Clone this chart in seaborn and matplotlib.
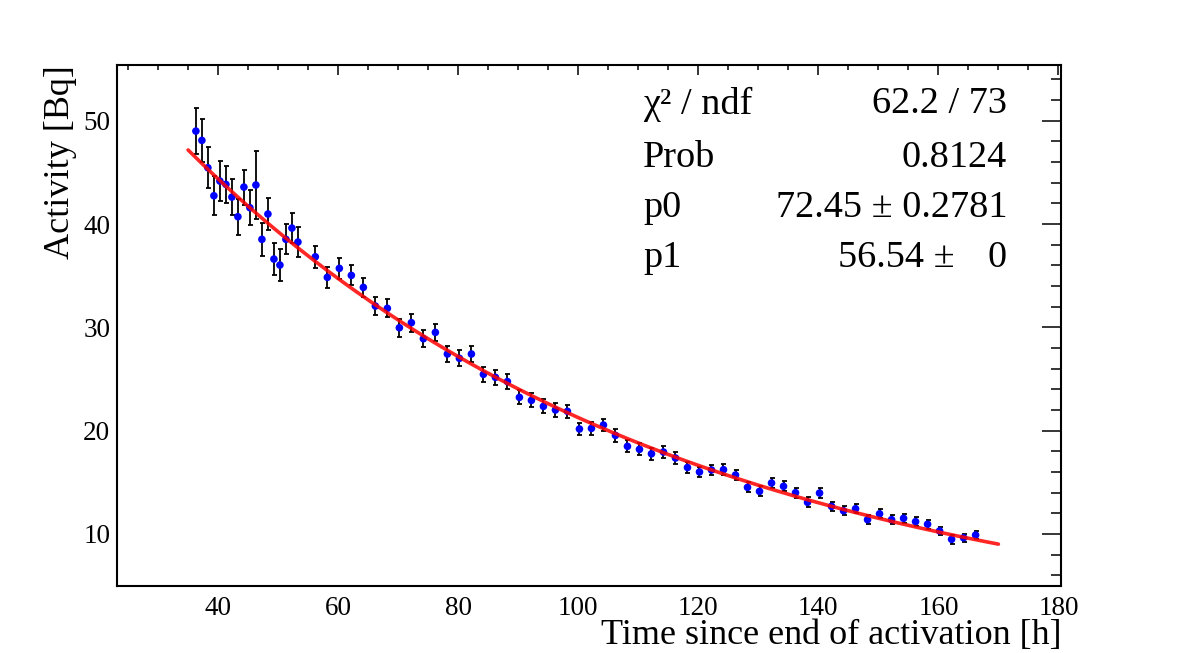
import numpy as np
import pandas as pd
import matplotlib
matplotlib.use("Agg")
import matplotlib.pyplot as plt
import seaborn as sns
from matplotlib.ticker import MultipleLocator

# ---------------- data ----------------
time_h = [36.3, 37.3, 38.3, 39.3, 40.3, 41.3, 42.3, 43.3, 44.3, 45.3,
          46.3, 47.3, 48.3, 49.3, 50.3, 51.3, 52.3, 53.3,
          56.2, 58.2, 60.2, 62.2, 64.2, 66.2, 68.2, 70.2, 72.2, 74.2,
          76.2, 78.2, 80.2, 82.2, 84.2, 86.2, 88.2, 90.2, 92.2, 94.2,
          96.2, 98.2, 100.2, 102.2, 104.2, 106.2, 108.2, 110.2, 112.2, 114.2,
          116.2, 118.2, 120.2, 122.2, 124.2, 126.2, 128.2, 130.2, 132.2, 134.2,
          136.2, 138.2, 140.2, 142.2, 144.2, 146.2, 148.2, 150.2, 152.2, 154.2,
          156.2, 158.2, 160.2, 162.2, 164.2, 166.2]
activity = [49.0, 48.1, 45.45, 42.74, 44.16, 43.84, 42.61, 40.71, 43.58, 41.58,
            43.78, 38.52, 40.97, 36.61, 36.03, 38.52, 39.61, 38.26,
            36.83, 34.84, 35.71, 35.03, 33.87, 32.06, 31.84, 29.96, 30.45, 28.90,
            29.51, 27.42, 27.00, 27.42, 25.45, 25.16, 24.75, 23.22, 22.93, 22.35,
            22.00, 21.87, 20.16, 20.22, 20.54, 19.54, 18.48, 18.19, 17.76, 17.93,
            17.35, 16.43, 16.00, 16.19, 16.22, 15.70, 14.51, 14.12, 14.93, 14.61,
            13.99, 13.06, 13.96, 12.67, 12.24, 12.44, 11.38, 11.95, 11.38, 11.51,
            11.19, 10.94, 10.29, 9.48, 9.63, 9.89]
activity_err = [2.2, 2.05, 2.0, 1.9, 1.9, 1.8, 1.77, 1.73, 1.7, 1.7,
                3.3, 1.6, 1.55, 1.55, 1.52, 1.45, 1.42, 1.45,
                1.06, 1.02, 1.0, 0.97, 0.95, 0.89, 0.87, 0.86, 0.86, 0.80,
                0.82, 0.77, 0.77, 0.77, 0.74, 0.74, 0.71, 0.68, 0.68, 0.67,
                0.66, 0.65, 0.62, 0.62, 0.62, 0.60, 0.58, 0.57, 0.56, 0.56,
                0.55, 0.53, 0.52, 0.52, 0.52, 0.51, 0.49, 0.48, 0.50, 0.49,
                0.48, 0.47, 0.48, 0.46, 0.45, 0.46, 0.44, 0.45, 0.44, 0.44,
                0.44, 0.43, 0.42, 0.41, 0.41, 0.42]

# fit parameters shown in the stat box: A(t) = p0 * 2^(-t/p1), fitted on 35..170 h
p0 = 72.45
p1 = 56.54
fit_range = (35.0, 170.0)

stat_labels = ["χ² / ndf", "Prob", "p0", "p1"]
stat_values = ["62.2 / 73", "0.8124", "72.45 ± 0.2781", "56.54 ±"]
p1_err_text = "0"

x_ticks = [40, 60, 80, 100, 120, 140, 160, 180]
y_ticks = [10, 20, 30, 40, 50]

# ---------------- style ----------------
sns.set_theme(style="white")
plt.rcParams["font.family"] = ["Liberation Serif", "DejaVu Serif"]
plt.rcParams["text.color"] = "black"
plt.rcParams["axes.labelcolor"] = "black"

fig = plt.figure(figsize=(11.82, 6.53), dpi=100)
ax = fig.add_axes([0.0992, 0.1026, 0.7988, 0.7979])

df = pd.DataFrame({"t": time_h, "a": activity, "e": activity_err})

ax.errorbar(df["t"], df["a"], yerr=df["e"], fmt="none", ecolor="black",
            elinewidth=1.3, capsize=1.8, capthick=1.3, zorder=2)
sns.scatterplot(data=df, x="t", y="a", ax=ax, color="#0000ff", s=30,
                edgecolor="none", linewidth=0, zorder=3)

t_fit = np.linspace(fit_range[0], fit_range[1], 400)
fit_df = pd.DataFrame({"t": t_fit, "a": p0 * np.power(2.0, -t_fit / p1)})
sns.lineplot(data=fit_df, x="t", y="a", ax=ax, color="#ff0000", lw=2.6,
             alpha=0.85, zorder=4)

ax.set_xlim(23.2, 180.5)
ax.set_ylim(4.96, 55.4)
ax.set_xticks(x_ticks)
ax.set_yticks(y_ticks)
ax.xaxis.set_minor_locator(MultipleLocator(5))
ax.yaxis.set_minor_locator(MultipleLocator(2))

for sp in ax.spines.values():
    sp.set_visible(True)
    sp.set_linewidth(1.5)
    sp.set_color("black")

ax.tick_params(axis="both", which="both", direction="in", top=True, right=True,
               colors="black", labelcolor="black", width=1.1, labelsize=19.5)
ax.tick_params(axis="x", which="major", length=7.2, pad=7)
ax.tick_params(axis="x", which="minor", length=3.6)
ax.tick_params(axis="y", which="major", length=13.5, pad=5)
ax.tick_params(axis="y", which="minor", length=7.0)

ax.set_xlabel("")
ax.set_ylabel("")
fig.text(0.898, 0.0145, "Time since end of activation [h]", ha="right",
         va="baseline", fontsize=26, color="black")
fig.text(0.051, 0.900, "Activity [Bq]", ha="center", va="top",
         rotation=90, fontsize=26, color="black")

# stat box
row_y = [104, 158, 208, 258]
for lab, val, py in zip(stat_labels, stat_values, row_y):
    yf = 1 - py / 653
    fig.text(643 / 1182, yf, lab, ha="left", va="center", fontsize=27.5, color="black")
    if lab == "p1":
        fig.text(955 / 1182, yf, val, ha="right", va="center", fontsize=27.5, color="black")
        fig.text(1007 / 1182, yf, p1_err_text, ha="right", va="center", fontsize=27.5, color="black")
    else:
        fig.text(1007 / 1182, yf, val, ha="right", va="center", fontsize=27.5, color="black")

fig.savefig("out.png", dpi=100)
